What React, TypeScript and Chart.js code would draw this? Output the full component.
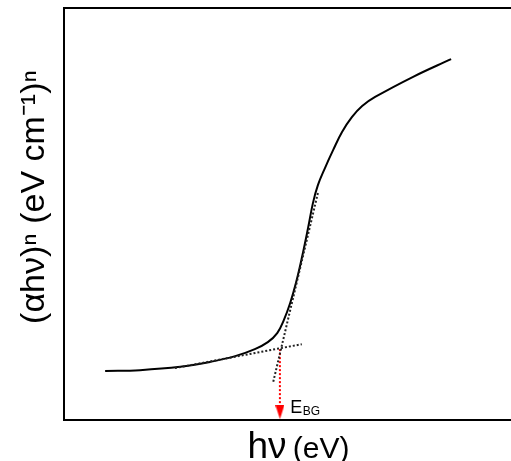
import React, { useEffect, useRef } from "react";
import { Chart, registerables } from "chart.js";

Chart.register(...registerables);

// Absorption-edge curve (arbitrary units)
const curveX = [0.92, 1.7, 2.6, 3.27, 3.83, 4.27, 4.56, 4.77, 4.92, 5.06, 5.19, 5.32, 5.46, 5.57, 5.68, 5.84, 6.02, 6.22, 6.44, 6.67, 6.96, 7.81, 8.66];
const curveY = [1.19, 1.21, 1.29, 1.41, 1.55, 1.72, 1.89, 2.11, 2.43, 2.84, 3.33, 3.93, 4.66, 5.27, 5.7, 6.12, 6.55, 6.99, 7.35, 7.62, 7.84, 8.33, 8.76];

// Tangent lines (dotted)
const steepTangentX = [5.68, 4.68];
const steepTangentY = [5.51, 0.92];
const flatTangentX = [2.48, 5.32];
const flatTangentY = [1.26, 1.84];

// Band-gap arrow (from tangent intersection down to the axis)
const arrowX = [4.83, 4.83];
const arrowY = [1.72, 0.19];

// Label
const gapLabelMain = "E";
const gapLabelSub = "BG";
const gapLabelX = 5.06;
const gapLabelY = 0.17;

const xTitleMain = "hν";
const xTitleUnit = "(eV)";
const yTitle = "\u2002\u2002(αhν)ⁿ (eV cm⁻¹)ⁿ";

const FONT = "'Liberation Sans', Arial, sans-serif";
const toPoints = (xs: number[], ys: number[]) => xs.map((x, i) => ({ x, y: ys[i] }));

export default function App() {
  const ref = useRef<HTMLCanvasElement | null>(null);

  useEffect(() => {
    document.body.style.margin = "0";
    const canvas = ref.current;
    if (!canvas) return;

    const arrowHead = document.createElement("canvas");
    arrowHead.width = 9;
    arrowHead.height = 14;
    const actx = arrowHead.getContext("2d")!;
    actx.fillStyle = "#ff0000";
    actx.beginPath();
    actx.moveTo(0, 0);
    actx.lineTo(9, 0);
    actx.lineTo(4.5, 14);
    actx.closePath();
    actx.fill();

    const labelPlugin = {
      id: "textLabels",
      afterDatasetsDraw(chart: any) {
        const { ctx, scales, chartArea } = chart;
        ctx.save();
        ctx.fillStyle = "#000";
        ctx.textBaseline = "alphabetic";
        ctx.textAlign = "left";
        // E_BG label
        const px = scales.x.getPixelForValue(gapLabelX);
        const py = scales.y.getPixelForValue(gapLabelY);
        ctx.font = `18px ${FONT}`;
        ctx.fillText(gapLabelMain, px, py);
        const w = ctx.measureText(gapLabelMain).width;
        ctx.font = `12px ${FONT}`;
        ctx.fillText(gapLabelSub, px + w + 0.5, py + 2);
        // x-axis title with mixed sizes
        ctx.font = `37px ${FONT}`;
        const w1 = ctx.measureText(xTitleMain + " ").width;
        ctx.font = `30px ${FONT}`;
        const w2 = ctx.measureText(xTitleUnit).width;
        const cx = (chartArea.left + chartArea.right) / 2 + 11;
        const startX = cx - (w1 - 4 + w2) / 2;
        const baseY = scales.x.bottom - 3;
        ctx.font = `37px ${FONT}`;
        ctx.fillText(xTitleMain, startX, baseY);
        ctx.font = `30px ${FONT}`;
        ctx.fillText(xTitleUnit, startX + w1 - 4, baseY);
        ctx.restore();
      },
    };

    const chart = new Chart(canvas, {
      type: "scatter",
      data: {
        datasets: [
          {
            data: toPoints(flatTangentX, flatTangentY),
            showLine: true,
            borderColor: "#222",
            borderWidth: 2,
            borderDash: [2, 2],
            pointRadius: 0,
          },
          {
            data: toPoints(steepTangentX, steepTangentY),
            showLine: true,
            borderColor: "#222",
            borderWidth: 2,
            borderDash: [2, 2],
            pointRadius: 0,
          },
          {
            data: toPoints(curveX, curveY),
            showLine: true,
            borderColor: "#000",
            borderWidth: 2,
            tension: 0.4,
            pointRadius: 0,
          },
          {
            data: toPoints(arrowX, arrowY),
            showLine: true,
            borderColor: "#ff0000",
            borderWidth: 2,
            borderDash: [2, 2],
            pointStyle: arrowHead as any,
            pointRadius: [0, 7],
          },
        ],
      } as any,
      options: {
        animation: false,
        responsive: false,
        layout: { padding: { left: 0, right: 0, top: 0, bottom: 0 }, autoPadding: false },
        plugins: { legend: { display: false }, tooltip: { enabled: false }, title: { display: false } },
        scales: {
          x: {
            type: "linear",
            position: "bottom",
            min: 0,
            max: 10,
            grid: { display: false },
            ticks: { display: false },
            border: { display: true, color: "#000", width: 2 },
            afterFit: (s: any) => {
              s.height = 41;
            },
          },
          x2: {
            type: "linear",
            axis: "x",
            position: "top",
            min: 0,
            max: 10,
            grid: { display: false },
            ticks: { display: false },
            border: { display: true, color: "#000", width: 2 },
            afterFit: (s: any) => {
              s.height = 8;
            },
          },
          y: {
            type: "linear",
            position: "left",
            min: 0,
            max: 10,
            grid: { display: false },
            ticks: { display: false },
            border: { display: true, color: "#000", width: 2 },
            title: {
              display: true,
              text: yTitle,
              color: "#000",
              font: { family: FONT, size: 34, lineHeight: 1.2 },
              padding: { top: 14, bottom: 0 },
            },
            afterFit: (s: any) => {
              s.width = 64;
            },
          },
        },
      } as any,
      plugins: [labelPlugin],
    });

    return () => chart.destroy();
  }, []);

  return (
    <div style={{ width: 511, height: 461 }}>
      <canvas ref={ref} width={511} height={461} style={{ display: "block" }} />
    </div>
  );
}
